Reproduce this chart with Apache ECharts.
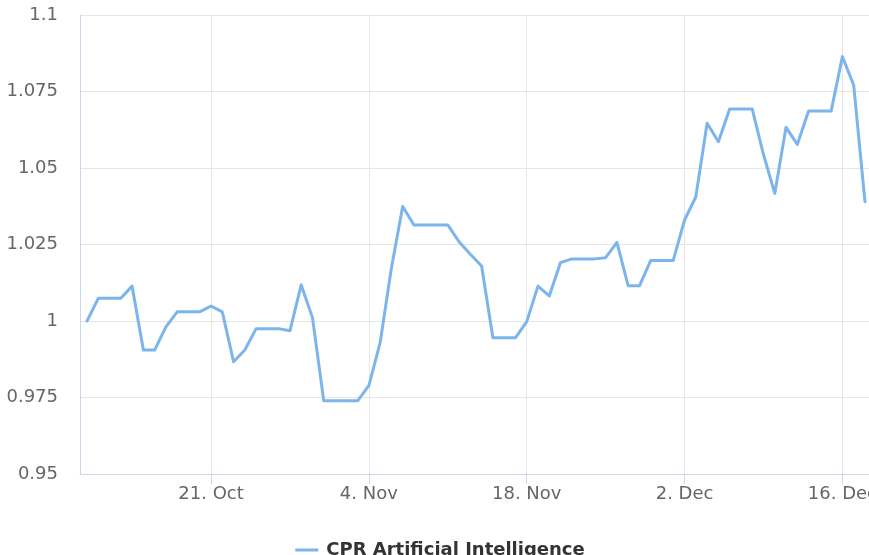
<!DOCTYPE html>
<html>
<head>
<meta charset="utf-8">
<script src="https://cdn.jsdelivr.net/npm/echarts@6/dist/echarts.min.js"></script>
<style>
  html, body { margin: 0; padding: 0; overflow: hidden; background: #ffffff; }
  #chart { width: 880px; height: 555px; }
</style>
</head>
<body>
<div id="chart"></div>
<script>
// Daily closing values (weekends carry Friday's value), starting 10 Oct 2024
const seriesName = 'CPR Artificial Intelligence';
const startDate = '2024-10-10';
const values = [
  1.0000, 1.0074, 1.0074, 1.0074, 1.0114, 0.9905, 0.9905, 0.9981, 1.0030, 1.0030,
  1.0030, 1.0049, 1.0030, 0.9867, 0.9905, 0.9975, 0.9975, 0.9975, 0.9968, 1.0118,
  1.0011, 0.9739, 0.9739, 0.9739, 0.9739, 0.9789, 0.9929, 1.0173, 1.0374, 1.0314,
  1.0314, 1.0314, 1.0314, 1.0259, 1.0218, 1.0180, 0.9945, 0.9945, 0.9945, 0.9998,
  1.0114, 1.0082, 1.0191, 1.0203, 1.0203, 1.0203, 1.0207, 1.0257, 1.0115, 1.0115,
  1.0198, 1.0198, 1.0198, 1.0330, 1.0406, 1.0646, 1.0586, 1.0693, 1.0693, 1.0693,
  1.0544, 1.0417, 1.0633, 1.0577, 1.0686, 1.0686, 1.0686, 1.0864, 1.0771, 1.0390
];

// X axis tick dates and their labels
const tickDates = ['2024-10-21', '2024-11-04', '2024-11-18', '2024-12-02', '2024-12-16'];
const tickLabels = ['21. Oct', '4. Nov', '18. Nov', '2. Dec', '16. Dec'];

// Y axis range
const yMin = 0.95;
const yMax = 1.1;
const yStep = 0.025;

// The x axis runs in days counted from startDate
const DAY = 86400000;
function toTime(s) {
  const p = s.split('-').map(Number);
  return Date.UTC(p[0], p[1] - 1, p[2]);
}
const t0 = toTime(startDate);
function dayOf(s) { return Math.round((toTime(s) - t0) / DAY); }
const points = values.map((v, i) => [i, v]);
const tickDays = tickDates.map(dayOf);

const axisColor = '#ccd6eb';
const gridColor = '#e6e6e6';
const font = '"DejaVu Sans", sans-serif';

const chart = echarts.init(document.getElementById('chart'), null, { renderer: 'canvas' });
chart.setOption({
  animation: false,
  backgroundColor: '#ffffff',
  grid: { left: 80, right: 6, top: 15, bottom: 81, containLabel: false },
  legend: {
    data: [seriesName],
    top: 536,
    left: 'center',
    icon: 'rect',
    itemWidth: 23,
    itemHeight: 3,
    textStyle: { color: '#333333', fontSize: 18, fontWeight: 'bold', fontFamily: font, padding: [0, 0, 0, 3] }
  },
  xAxis: {
    type: 'value',
    min: -0.62,
    max: 69.73,
    axisLine: { show: true, onZero: false, lineStyle: { color: axisColor, width: 1 } },
    axisTick: { show: true, length: 10, lineStyle: { color: axisColor }, customValues: tickDays },
    splitLine: { show: true, lineStyle: { color: gridColor, width: 1 } },
    axisLabel: {
      customValues: tickDays,
      color: '#666666',
      fontSize: 18,
      fontFamily: font,
      margin: 11,
      formatter: function (v) {
        const k = tickDays.indexOf(Math.round(v));
        return k >= 0 ? tickLabels[k] : '';
      }
    }
  },
  yAxis: {
    type: 'value',
    min: yMin,
    max: yMax,
    interval: yStep,
    axisLine: { show: true, onZero: false, lineStyle: { color: axisColor, width: 1 } },
    axisTick: { show: false },
    splitLine: { show: true, lineStyle: { color: gridColor, width: 1 } },
    axisLabel: {
      color: '#666666',
      fontSize: 18,
      fontFamily: font,
      margin: 22,
      formatter: function (v) { return String(+v.toFixed(3)); }
    }
  },
  series: [{
    name: seriesName,
    type: 'line',
    data: points,
    symbol: 'none',
    color: '#7cb5ec',
    lineStyle: { color: '#7cb5ec', width: 3, join: 'round', cap: 'round' }
  }]
});
</script>
</body>
</html>
